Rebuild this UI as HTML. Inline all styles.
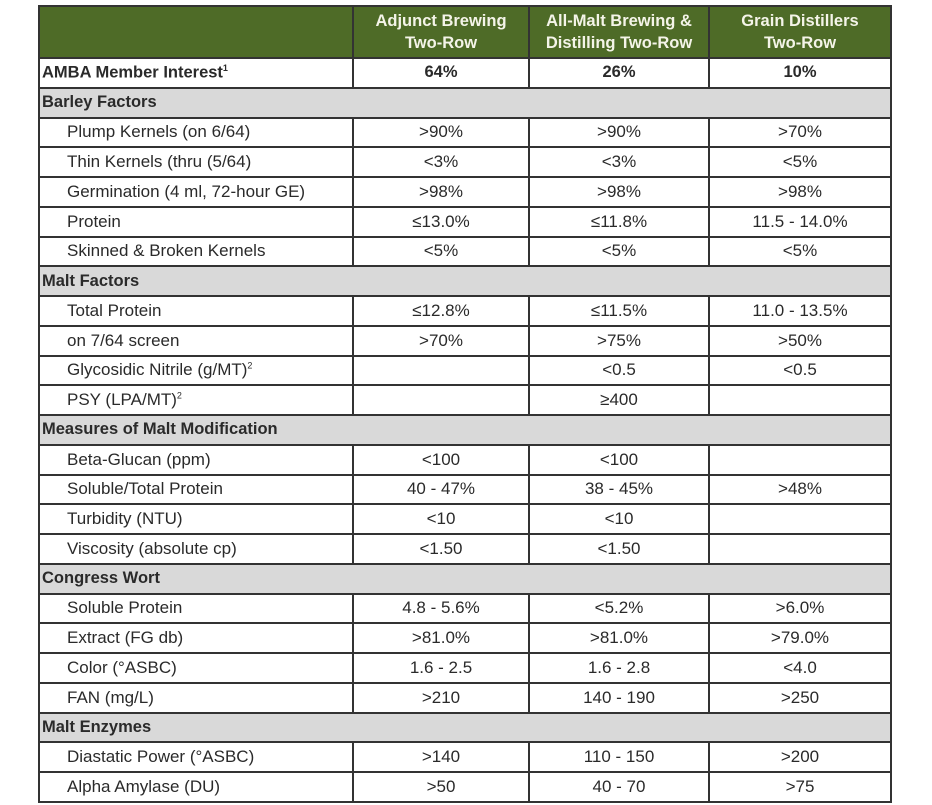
<!DOCTYPE html>
<html><head><meta charset="utf-8"><style>
body{margin:0;background:#fff;width:932px;height:805px;overflow:hidden;font-family:"Liberation Sans",sans-serif;}
table{position:absolute;left:38px;top:5px;border-collapse:collapse;table-layout:fixed;width:852px;}
td{border:2px solid #333;height:27.76px;padding:0;font-size:17px;color:#2a2a2a;text-align:center;white-space:nowrap;overflow:hidden;}
tr.h td{background:#4e6b27;color:#f4f4e8;font-weight:bold;font-size:16.5px;height:50px;line-height:22px;}
td.l{text-align:left;padding-left:27px;}
tr.s td{background:#d9d9d9;font-weight:bold;text-align:left;padding-left:2px;font-size:16.5px;}
tr.a td{font-weight:bold;font-size:16.5px;}
tr.a td.l{padding-left:2px;}
sup{font-size:9px;}
</style></head><body>
<table>
<colgroup><col style="width:314px"><col style="width:176px"><col style="width:180px"><col style="width:182px"></colgroup>
<tr class="h"><td></td><td>Adjunct Brewing<br>Two-Row</td><td>All-Malt Brewing &amp;<br>Distilling Two-Row</td><td>Grain Distillers<br>Two-Row</td></tr>
<tr class="a"><td class="l">AMBA Member Interest<sup>1</sup></td><td>64%</td><td>26%</td><td>10%</td></tr>
<tr class="s"><td colspan="4">Barley Factors</td></tr>
<tr><td class="l">Plump Kernels (on 6/64)</td><td>&gt;90%</td><td>&gt;90%</td><td>&gt;70%</td></tr>
<tr><td class="l">Thin Kernels (thru (5/64)</td><td>&lt;3%</td><td>&lt;3%</td><td>&lt;5%</td></tr>
<tr><td class="l">Germination (4 ml, 72-hour GE)</td><td>&gt;98%</td><td>&gt;98%</td><td>&gt;98%</td></tr>
<tr><td class="l">Protein</td><td>≤13.0%</td><td>≤11.8%</td><td>11.5 - 14.0%</td></tr>
<tr><td class="l">Skinned &amp; Broken Kernels</td><td>&lt;5%</td><td>&lt;5%</td><td>&lt;5%</td></tr>
<tr class="s"><td colspan="4">Malt Factors</td></tr>
<tr><td class="l">Total Protein</td><td>≤12.8%</td><td>≤11.5%</td><td>11.0 - 13.5%</td></tr>
<tr><td class="l">on 7/64 screen</td><td>&gt;70%</td><td>&gt;75%</td><td>&gt;50%</td></tr>
<tr><td class="l">Glycosidic Nitrile (g/MT)<sup>2</sup></td><td></td><td>&lt;0.5</td><td>&lt;0.5</td></tr>
<tr><td class="l">PSY (LPA/MT)<sup>2</sup></td><td></td><td>≥400</td><td></td></tr>
<tr class="s"><td colspan="4">Measures of Malt Modification</td></tr>
<tr><td class="l">Beta-Glucan (ppm)</td><td>&lt;100</td><td>&lt;100</td><td></td></tr>
<tr><td class="l">Soluble/Total Protein</td><td>40 - 47%</td><td>38 - 45%</td><td>&gt;48%</td></tr>
<tr><td class="l">Turbidity (NTU)</td><td>&lt;10</td><td>&lt;10</td><td></td></tr>
<tr><td class="l">Viscosity (absolute cp)</td><td>&lt;1.50</td><td>&lt;1.50</td><td></td></tr>
<tr class="s"><td colspan="4">Congress Wort</td></tr>
<tr><td class="l">Soluble Protein</td><td>4.8 - 5.6%</td><td>&lt;5.2%</td><td>&gt;6.0%</td></tr>
<tr><td class="l">Extract (FG db)</td><td>&gt;81.0%</td><td>&gt;81.0%</td><td>&gt;79.0%</td></tr>
<tr><td class="l">Color (°ASBC)</td><td>1.6 - 2.5</td><td>1.6 - 2.8</td><td>&lt;4.0</td></tr>
<tr><td class="l">FAN (mg/L)</td><td>&gt;210</td><td>140 - 190</td><td>&gt;250</td></tr>
<tr class="s"><td colspan="4">Malt Enzymes</td></tr>
<tr><td class="l">Diastatic Power (°ASBC)</td><td>&gt;140</td><td>110 - 150</td><td>&gt;200</td></tr>
<tr><td class="l">Alpha Amylase (DU)</td><td>&gt;50</td><td>40 - 70</td><td>&gt;75</td></tr>
</table>
</body></html>
